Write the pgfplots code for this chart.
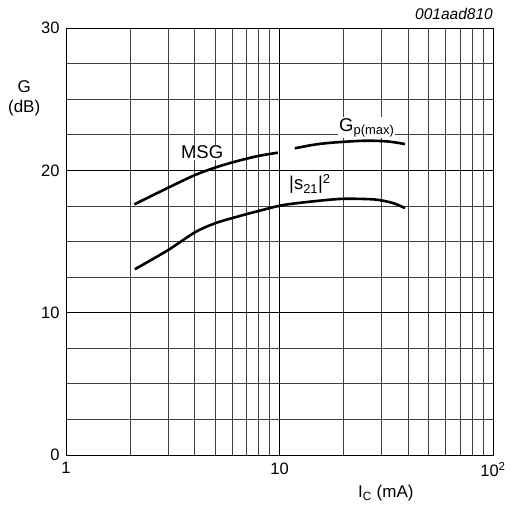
\documentclass[border=0pt]{standalone}
\usepackage{pgfplots}
\pgfplotsset{compat=1.18}
\usepackage{fontspec}
\setmainfont{Liberation Sans}
\begin{document}
\begin{tikzpicture}[x=1pt,y=1pt]
\path[use as bounding box] (-66,-52) rectangle (444,455);
\begin{axis}[
  at={(0,0)}, anchor=south west,
  scale only axis, width=427pt, height=427pt,
  xmode=log, xmin=1, xmax=100, ymin=0, ymax=30,
  xtick={1,10,100}, xticklabels={1,10,10\textsuperscript{2}},
  minor xtick={2,3,4,5,6,7,8,9,20,30,40,50,60,70,80,90},
  ytick={0,10,20,30},
  minor ytick={2.5,5,7.5,12.5,15,17.5,22.5,25,27.5},
  grid=both,
  major grid style={black, line width=0.7pt},
  minor grid style={black!75, line width=0.7pt},
  axis line style={black, line width=0.9pt},
  tick style={draw=none},
  /pgf/number format/assume math mode=true,
  tick label style={font=\fontsize{16.5}{18}\selectfont},
  xticklabel style={yshift=-4pt},
  yticklabel style={xshift=-3pt},
  clip=false,
]
\addplot[black, line width=2.6pt, smooth] coordinates {
 (2.09,17.61) (3.01,18.78) (4.02,19.67) (4.99,20.19) (6.19,20.61) (7.96,21.01) (9.82,21.24)};
\addplot[black, line width=2.6pt, smooth] coordinates {
 (11.8,21.55) (14.5,21.8) (17.8,21.95) (25,22.08) (32,22.03) (38.7,21.85)};
\addplot[black, line width=2.6pt, smooth] coordinates {
 (2.1,13.05) (3.01,14.40) (4.02,15.65) (4.99,16.28) (6.19,16.70) (7.96,17.14) (10.4,17.56) (15,17.85) (20,18.0) (28,17.95) (34,17.7) (38.7,17.35)};
\node[fill=white, inner sep=1pt, font=\fontsize{18.5}{20}\selectfont] at (axis cs:4.34,21.25) {MSG};
\node[fill=white, inner sep=1pt, anchor=base west, font=\fontsize{18.5}{20}\selectfont] at (axis cs:18.8,22.76) {G\textsubscript{p(max)}};
\node[fill=white, inner sep=1pt, anchor=base west, font=\fontsize{18.5}{20}\selectfont] at (axis cs:10.96,18.62) {|s\textsubscript{21}|\textsuperscript{2}};
\node[anchor=base, font=\fontsize{17}{19}\selectfont] at (axis cs:31.5,-3.02) {I\textsubscript{C} (mA)};
\node[align=center, font=\fontsize{17}{20}\selectfont] at (rel axis cs:-0.098,0.836) {G\\(dB)};
\node[anchor=base east, inner sep=0pt, font=\fontsize{15.5}{17}\selectfont\itshape] at (rel axis cs:1,1.019) {001aad810};
\end{axis}
\end{tikzpicture}
\end{document}
